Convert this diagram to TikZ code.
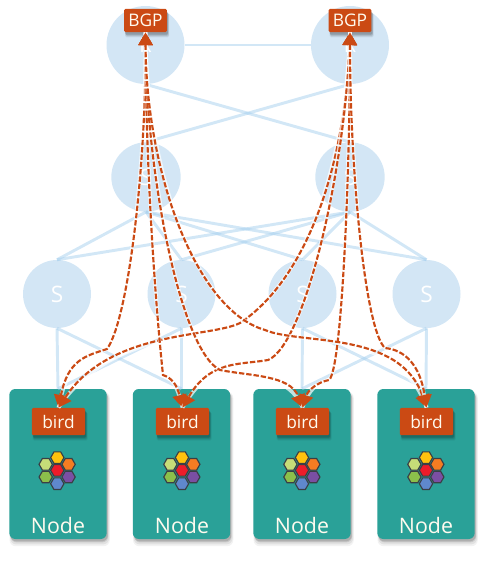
\documentclass[tikz,border=0pt]{standalone}
\usepackage{fontspec}
\setmainfont{Open Sans}
\usetikzlibrary{arrows.meta,shadows,shapes.geometric}
\definecolor{bubble}{HTML}{D3E6F5}
\definecolor{wire}{HTML}{A5CFEE}
\definecolor{teal}{HTML}{2AA198}
\definecolor{rust}{HTML}{CB4A14}
\definecolor{paper}{HTML}{FFFBEF}
\definecolor{hexline}{HTML}{3A3F45}
\definecolor{hexyellow}{HTML}{FFC20E}
\definecolor{hexorange}{HTML}{F57C22}
\definecolor{hexpurple}{HTML}{7A4FA3}
\definecolor{hexblue}{HTML}{5F88CC}
\definecolor{hexgreen}{HTML}{8CBF4B}
\definecolor{hexlime}{HTML}{C6DC78}
\definecolor{hexred}{HTML}{EC1C2A}
\tikzset{
  softshadow/.style={
    general shadow={shadow xshift=1.2pt,shadow yshift=-3.6pt,fill=black,opacity=.05,shadow scale=1.03},
    general shadow={shadow xshift=1.2pt,shadow yshift=-3.2pt,fill=black,opacity=.07,shadow scale=1.015},
    general shadow={shadow xshift=1.1pt,shadow yshift=-2.6pt,fill=black,opacity=.11},
    general shadow={shadow xshift=.8pt,shadow yshift=-1.8pt,fill=black,opacity=.13}},
  bigbubble/.style={circle,fill=bubble,minimum size=58.5pt,inner sep=0pt,text=white,font=\fontsize{15}{15}\selectfont},
  midbubble/.style={circle,fill=bubble,minimum size=52pt,inner sep=0pt,text=white,font=\fontsize{17}{17}\selectfont},
  leafbubble/.style={circle,fill=bubble,minimum size=51pt,inner sep=0pt,text=white,font=\fontsize{17}{17}\selectfont},
  wireline/.style={draw=wire,line width=2.2pt,opacity=.5},
  hostbox/.style={rectangle,rounded corners=4.5pt,fill=teal,minimum width=73pt,minimum height=112.5pt,inner sep=0pt,softshadow},
  birdtag/.style={rectangle,rounded corners=1pt,fill=rust,minimum width=40pt,minimum height=20.5pt,inner sep=0pt,text=paper,font=\fontsize{13}{13}\selectfont,softshadow},
  bgptag/.style={rectangle,rounded corners=1pt,fill=rust,minimum width=32pt,minimum height=17.5pt,inner sep=0pt,text=paper,font=\fontsize{13}{13}\selectfont,softshadow},
  hostlabel/.style={inner sep=0pt,text=paper,font=\fontsize{16}{16}\selectfont},
  route/.style={draw=rust,line width=1.6pt,dash pattern=on 4pt off 1.5pt,
    {Triangle[length=9.5pt,width=10.5pt]}-{Triangle[length=9.5pt,width=10.5pt]},
    preaction={draw=white,line width=2.8pt,solid,draw opacity=.7,-}},
  hexcell/.style={regular polygon,regular polygon sides=6,shape border rotate=0,draw=hexline,line width=.85pt,minimum size=10pt,inner sep=0pt},
  pics/cluster/.style={code={
    \node[hexcell,fill=hexyellow] (-a) at (0,-12.7) {};
    \node[hexcell,fill=hexorange] (-b) at (11.3,-6) {};
    \node[hexcell,fill=hexpurple] (-c) at (11.3,6.7) {};
    \node[hexcell,fill=hexblue] (-d) at (0,13.4) {};
    \node[hexcell,fill=hexgreen] (-e) at (-11.6,6.7) {};
    \node[hexcell,fill=hexlime] (-f) at (-11.6,-6) {};
    \node[hexcell,fill=hexred] (-g) at (0,0) {};
  }}
}
\begin{document}
\begin{tikzpicture}[x=.75pt,y=-.75pt]
\useasboundingbox (0,0) rectangle (484,569);
% bubbles
\node[bigbubble] (r1) at (145.5,45) {R};
\node[bigbubble] (r2) at (350,45) {R};
\node[midbubble] (s1) at (146,177) {S};
\node[midbubble] (s2) at (350,177) {S};
\node[leafbubble] (l1) at (57,294) {S};
\node[leafbubble] (l2) at (181.5,294) {S};
\node[leafbubble] (l3) at (302.5,294) {S};
\node[leafbubble] (l4) at (426.5,294) {S};
% hosts
\node[hostbox] (h1) at (58,464) {};
\node[hostbox] (h2) at (181.5,464) {};
\node[hostbox] (h3) at (302,464) {};
\node[hostbox] (h4) at (426,464) {};
% wires
\draw[wireline] (r1.east) -- (r2.west);
\draw[wireline] (r1.south) -- (s2.north);
\draw[wireline] (r2.south) -- (s1.north);
\foreach \a in {s1,s2}
  \foreach \b in {l1,l2,l3,l4}
    \draw[wireline] (\a.south) -- (\b.north);
\foreach \a/\b in {l1/h1,l1/h2,l2/h1,l2/h2,l3/h3,l3/h4,l4/h3,l4/h4}
  \draw[wireline] (\a.south) -- (\b.north);
% tags
\node[bgptag] (b1) at (145.5,20.5) {BGP};
\node[bgptag] (b2) at (350,20.5) {BGP};
\node[birdtag] (t1) at (58.5,421.5) {bird};
\node[birdtag] (t2) at (182.5,421.5) {bird};
\node[birdtag] (t3) at (302.5,421.5) {bird};
\node[birdtag] (t4) at (426.5,421.5) {bird};
% labels and icons
\node[hostlabel] (n1) at (58,525) {Node};
\node[hostlabel] (n2) at (182,525) {Node};
\node[hostlabel] (n3) at (302,525) {Node};
\node[hostlabel] (n4) at (426,525) {Node};
\pic (c1) at (57.3,470.3) {cluster};
\pic (c2) at (182,470.3) {cluster};
\pic (c3) at (302,470.3) {cluster};
\pic (c4) at (426,470.3) {cluster};
% routes
\draw[route] (b1.south) .. controls (146,170) and (128,320) .. (107,349) .. controls (85,356) and (68,360) .. (t1.north);
\draw[route] (b2.south) .. controls (345,170) and (305,280) .. (240,323) .. controls (210,338) and (110,330) .. (t1.north);
\draw[route] (b1.south) .. controls (146,170) and (155,300) .. (163,375) .. controls (172,378) and (177,385) .. (t2.north);
\draw[route] (b2.south) .. controls (345,170) and (305,345) .. (268,360) .. controls (240,365) and (210,360) .. (t2.north);
\draw[route] (b1.south) .. controls (146,170) and (180,350) .. (220,370) .. controls (250,376) and (290,375) .. (t3.north);
\draw[route] (b2.south) .. controls (350,170) and (342,370) .. (329,380) .. controls (318,382) and (308,390) .. (t3.north);
\draw[route] (b1.south) .. controls (146,170) and (195,310) .. (265,330) .. controls (300,345) and (400,330) .. (t4.north);
\draw[route] (b2.south) .. controls (350,170) and (365,330) .. (385,348) .. controls (405,350) and (420,365) .. (t4.north);
\end{tikzpicture}
\end{document}
